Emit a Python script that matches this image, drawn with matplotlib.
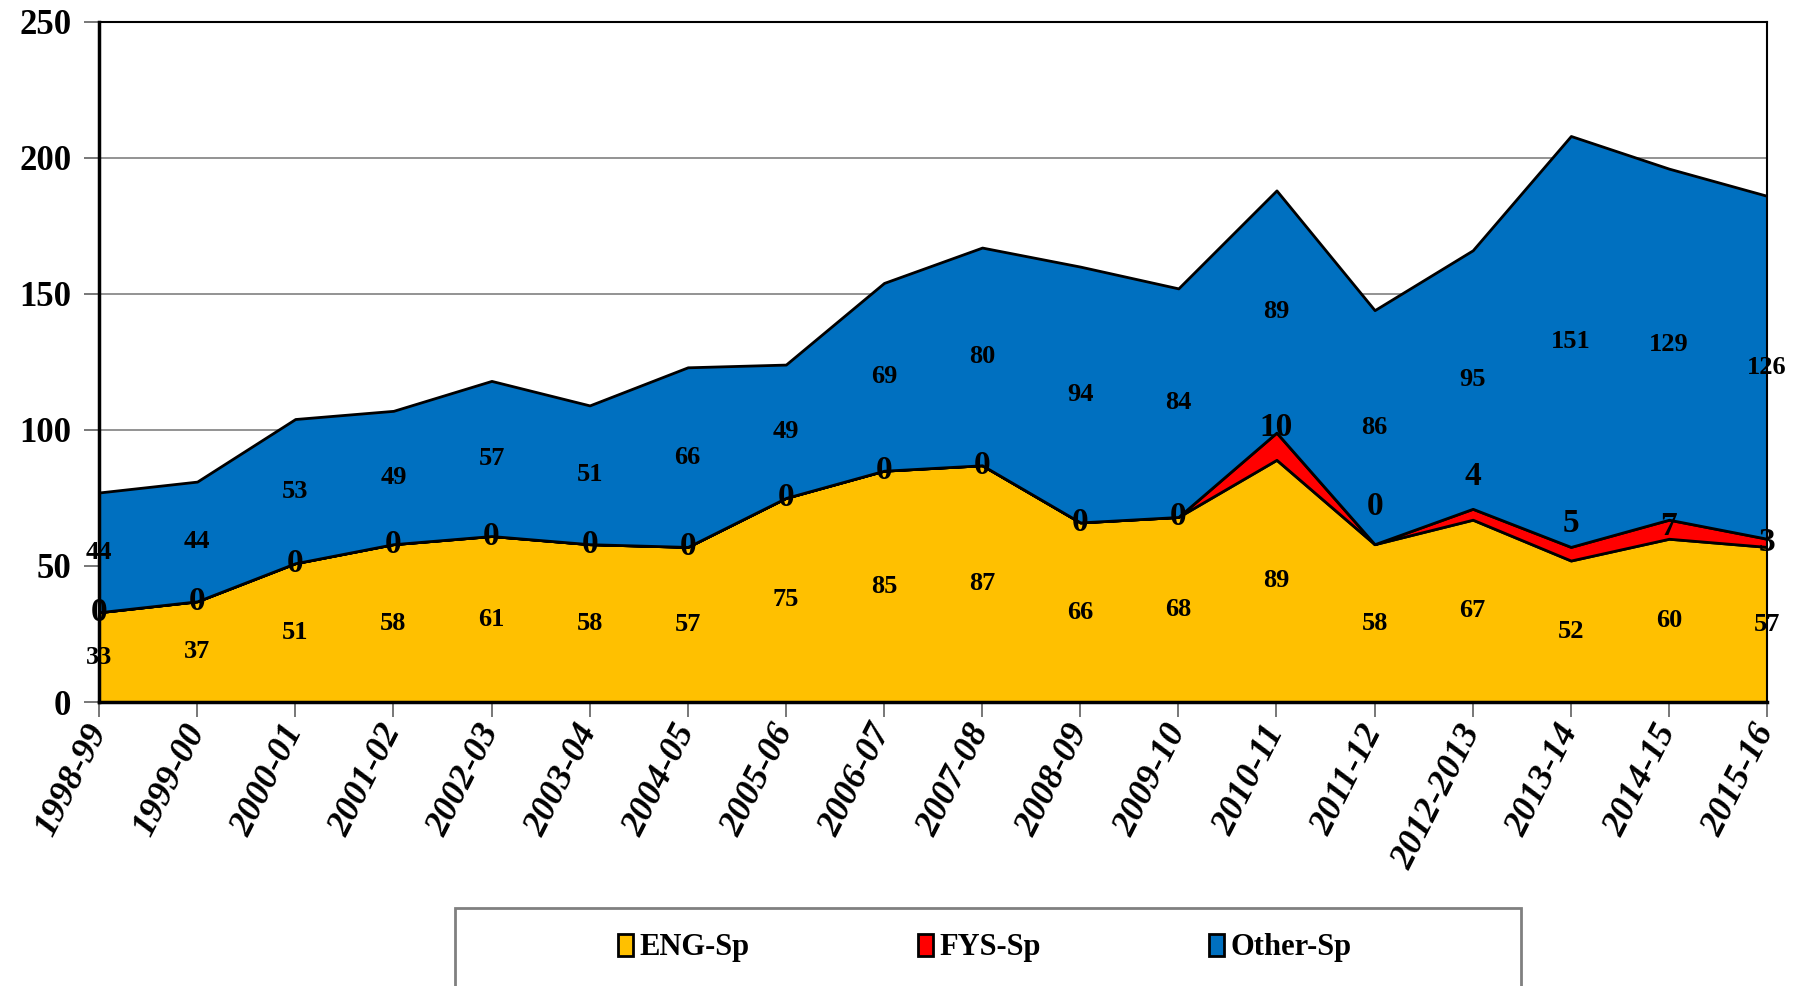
import numpy as np
import matplotlib.pyplot as plt
from matplotlib.patches import Patch, Rectangle

# seasons on the x axis
seasons = ['1998-99', '1999-00', '2000-01', '2001-02', '2002-03', '2003-04',
           '2004-05', '2005-06', '2006-07', '2007-08', '2008-09', '2009-10',
           '2010-11', '2011-12', '2012-2013', '2013-14', '2014-15', '2015-16']

# stacked series
eng_sp = [33, 37, 51, 58, 61, 58, 57, 75, 85, 87, 66, 68, 89, 58, 67, 52, 60, 57]
fys_sp = [0, 0, 0, 0, 0, 0, 0, 0, 0, 0, 0, 0, 10, 0, 4, 5, 7, 3]
other_sp = [44, 44, 53, 49, 57, 51, 66, 49, 69, 80, 94, 84, 89, 86, 95, 151, 129, 126]

# where excel pushed the FYS labels (data units above the band middle)
fys_shift = [0, 0, 0, 0, 0, 0, 0, 0, 0, 0, 0, 0, 7, 14, 14, 11, 1, 0]

plt.rcParams['font.family'] = ['Liberation Serif', 'DejaVu Serif']
plt.rcParams['font.weight'] = 'bold'

fig = plt.figure(figsize=(18.1, 9.86), dpi=100)
ax = fig.add_axes([0.0547, 0.288, 0.9216, 0.690])

x = np.arange(len(seasons))
e = np.array(eng_sp)
f = np.array(fys_sp)
o = np.array(other_sp)

colors = ['#FFC000', '#FF0000', '#0070C0']
ax.stackplot(x, e, f, o, colors=colors, edgecolor='black', linewidth=2, zorder=2)

# grid lines
ax.set_ylim(0, 250)
ax.set_xlim(0, len(seasons) - 1)
ax.set_yticks([0, 50, 100, 150, 200, 250])
ax.yaxis.grid(True, color='#808080', linewidth=1.2, zorder=1)
ax.set_axisbelow(True)

for s in ax.spines.values():
    s.set_color('black')
    s.set_linewidth(1.5)
ax.spines['left'].set_linewidth(2.5)
ax.spines['bottom'].set_linewidth(2.5)

ax.tick_params(axis='y', length=11, width=1.2, color='#606060', pad=9, labelsize=25)
ax.tick_params(axis='x', length=11, width=1.2, color='#606060', pad=7)
ax.set_xticks(x)
ax.set_xticklabels(seasons, rotation=63, ha='right', va='center',
                   rotation_mode='anchor', fontsize=26, fontstyle='italic', fontweight='bold')

# data labels
for i in range(len(seasons)):
    ax.text(x[i], e[i] / 2, str(e[i]), ha='center', va='center', fontsize=19,
            fontweight='bold', zorder=5, clip_on=False)
    ax.text(x[i], e[i] + f[i] / 2 + fys_shift[i], str(f[i]), ha='center', va='center',
            fontsize=24, fontweight='bold', zorder=5, clip_on=False)
    ax.text(x[i], e[i] + f[i] + o[i] / 2, str(o[i]), ha='center', va='center', fontsize=19,
            fontweight='bold', zorder=5, clip_on=False)

# legend box, runs off the bottom of the image
fig.patches.append(Rectangle((455 / 1810, -0.05), (1521 - 455) / 1810, 0.05 + 1 - 908 / 986,
                             transform=fig.transFigure, facecolor='white',
                             edgecolor='#808080', linewidth=2))

handles = [Patch(facecolor=c, edgecolor='black', linewidth=2) for c in colors]
fig.legend(handles, ['ENG-Sp', 'FYS-Sp', 'Other-Sp'], loc='center',
           bbox_to_anchor=(0.544, 1 - 948 / 986), ncol=3, frameon=False,
           fontsize=22, handlelength=0.5, handleheight=0.7, handletextpad=0.2,
           columnspacing=5.5)

plt.savefig('out.png', dpi=100)
